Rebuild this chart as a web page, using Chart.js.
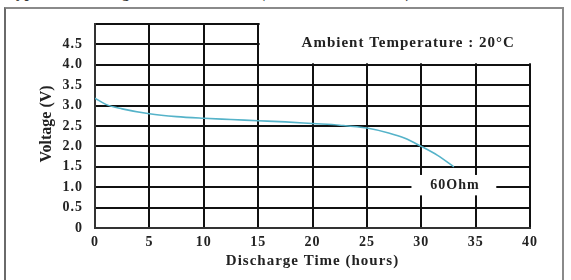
<!DOCTYPE html>
<html>
<head>
<meta charset="utf-8">
<script src="https://cdn.jsdelivr.net/npm/chart.js@4.4.1/dist/chart.umd.min.js"></script>
<style>
  html, body { margin: 0; padding: 0; background: #fff; }
  #wrap { position: relative; width: 571px; height: 280px; overflow: hidden; background: #fff; }
  #frame { position: absolute; left: 4px; top: 7px; width: 556px; height: 300px;
           border: 2px solid #8a8a8a; border-left-color: #6a6a6a; }
  #heading { position: absolute; left: 6px; top: -15px; font: bold 15px "Liberation Serif", serif;
             color: #333; white-space: nowrap; letter-spacing: 1px; }
  canvas { position: absolute; left: 0; top: 0; }
</style>
</head>
<body>
<div id="wrap">
  <div id="heading">Typical Discharge Characteristics (60 Ohm Resistance)</div>
  <div id="frame"></div>
  <canvas id="chart" width="571" height="280"></canvas>
</div>
<script>
// discharge curve
var timeHours = [0, 1, 2.5, 5, 7.5, 10, 12.5, 15, 17.5, 20, 22.5, 25, 27, 28.5, 30, 31.5, 33];
var voltage   = [3.18, 3.03, 2.92, 2.8, 2.73, 2.69, 2.66, 2.63, 2.6, 2.56, 2.52, 2.45, 2.33, 2.2, 2.0, 1.78, 1.5];

var xTickLabels = ['0', '5', '10', '15', '20', '25', '30', '35', '40'];
var yTickLabels = ['0', '0.5', '1.0', '1.5', '2.0', '2.5', '3.0', '3.5', '4.0', '4.5', ''];

var seriesLabel = '60Ohm';
var ambientText = 'Ambient Temperature : 20\u00B0C';
var yTitle = 'Voltage (V)';

var serif = '"Liberation Serif", "DejaVu Serif", serif';

var points = timeHours.map(function (t, i) { return { x: t, y: voltage[i] }; });

// the printed lettering is spread out a bit
var spacingPlugin = {
  id: 'spacing',
  beforeLayout: function (chart) { chart.ctx.letterSpacing = '1px'; },
  beforeDraw: function (chart) { chart.ctx.letterSpacing = '1px'; }
};

// blank out the upper right part of the grid and put the notes on the plot
var notesPlugin = {
  id: 'notes',
  beforeDatasetsDraw: function (chart) {
    var ctx = chart.ctx, xs = chart.scales.x, ys = chart.scales.y;
    ctx.save();
    ctx.fillStyle = '#fff';
    var x0 = xs.getPixelForValue(15) + 1.5, x1 = xs.getPixelForValue(40) + 2;
    var y0 = ys.getPixelForValue(5) - 2, y1 = ys.getPixelForValue(4) - 1.5;
    ctx.fillRect(x0, y0, x1 - x0, y1 - y0);
    ctx.restore();
  },
  afterDatasetsDraw: function (chart) {
    var ctx = chart.ctx, xs = chart.scales.x, ys = chart.scales.y;
    ctx.save();
    // label box for the curve
    var bx0 = xs.getPixelForValue(29.1), bx1 = xs.getPixelForValue(36.9);
    var by0 = ys.getPixelForValue(1.3), by1 = ys.getPixelForValue(0.8);
    ctx.fillStyle = '#fff';
    ctx.fillRect(bx0, by0, bx1 - bx0, by1 - by0);
    ctx.fillStyle = '#222';
    ctx.letterSpacing = '1px';
    ctx.font = 'bold 14px ' + serif;
    ctx.textAlign = 'center';
    ctx.textBaseline = 'middle';
    ctx.fillText(seriesLabel, xs.getPixelForValue(33.1), ys.getPixelForValue(1.05));
    ctx.font = 'bold 15px ' + serif;
    ctx.fillText(ambientText, xs.getPixelForValue(28.8), ys.getPixelForValue(4.52));
    // axis title for voltage, turned upright (no spacing: it misplaces rotated text)
    ctx.letterSpacing = '0px';
    ctx.font = 'bold 16px ' + serif;
    ctx.translate(47, ys.getPixelForValue(2.55));
    ctx.rotate(-Math.PI / 2);
    ctx.fillText(yTitle, 0, 0);
    ctx.restore();
  }
};

new Chart(document.getElementById('chart'), {
  type: 'line',
  data: {
    datasets: [{
      label: seriesLabel,
      data: points,
      borderColor: '#55b3c9',
      borderWidth: 1.6,
      pointRadius: 0,
      cubicInterpolationMode: 'monotone',
      fill: false
    }]
  },
  options: {
    responsive: false,
    animation: false,
    layout: { padding: { left: 0, top: 24, right: 41, bottom: 0 } },
    plugins: { legend: { display: false }, tooltip: { enabled: false } },
    scales: {
      x: {
        type: 'linear',
        min: 0, max: 40,
        afterBuildTicks: function (scale) {
          scale.ticks = xTickLabels.map(function (l) { return { value: Number(l) }; });
        },
        afterFit: function (scale) { scale.height = 52; },
        grid: { color: '#111', lineWidth: 2, drawTicks: false },
        border: { color: '#333', width: 2 },
        ticks: {
          padding: 6,
          color: '#222',
          font: { family: serif, size: 14, weight: 'bold' },
          maxRotation: 0,
          callback: function (v, i) { return xTickLabels[i]; }
        },
        title: {
          display: true,
          text: 'Discharge Time (hours)',
          color: '#222',
          font: { family: serif, size: 15, weight: 'bold' },
          padding: { top: 0, bottom: 10 }
        }
      },
      y: {
        type: 'linear',
        min: 0, max: 5,
        afterBuildTicks: function (scale) {
          scale.ticks = yTickLabels.map(function (l, i) { return { value: i * 0.5 }; });
        },
        afterFit: function (scale) { scale.width = 95; },
        grid: { color: '#111', lineWidth: 2, drawTicks: false },
        border: { color: '#333', width: 2 },
        ticks: {
          padding: 12,
          color: '#222',
          font: { family: serif, size: 14, weight: 'bold' },
          callback: function (v, i) { return yTickLabels[i]; }
        },
        title: { display: false }
      }
    }
  },
  plugins: [spacingPlugin, notesPlugin]
});
</script>
</body>
</html>
